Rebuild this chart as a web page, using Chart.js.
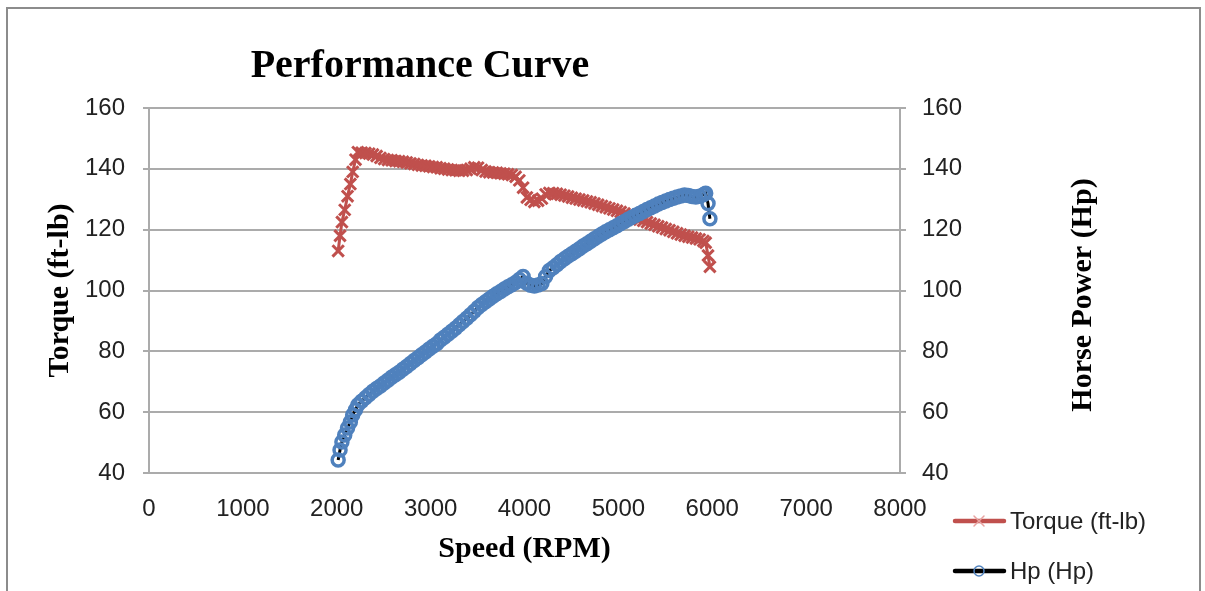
<!DOCTYPE html>
<html>
<head>
<meta charset="utf-8">
<script src="https://cdn.jsdelivr.net/npm/chart.js@4/dist/chart.umd.min.js"></script>
<style>
  html, body { margin: 0; padding: 0; background: #fff; overflow: hidden; }
  #wrap { position: relative; width: 1205px; height: 591px; }
  #frame { position: absolute; left: 6px; top: 7px; width: 1195px; height: 600px; border: 2px solid #8c8c8c; box-sizing: border-box; }
  #perf { position: absolute; left: 0; top: 0; }
</style>
</head>
<body>
<div id="wrap">
  <div id="frame"></div>
  <canvas id="perf" width="1205" height="591"></canvas>
</div>
<script>
// dyno run, speed sweep
const rpm = [
  2015, 2035, 2055, 2085, 2115, 2145, 2170, 2200, 2225,
  2265, 2305, 2345, 2385, 2425, 2465, 2505, 2545, 2585, 2625,
  2665, 2705, 2745, 2785, 2825, 2865, 2905, 2945, 2985, 3025,
  3065, 3105, 3145, 3185, 3225, 3265, 3305, 3345, 3385, 3425,
  3465, 3505, 3545, 3585, 3625, 3665, 3705, 3745, 3785, 3825,
  3865, 3905, 3945, 3985, 4025, 4065, 4105, 4145, 4185, 4225,
  4265, 4305, 4345, 4385, 4425, 4465, 4505, 4545, 4585, 4625,
  4665, 4705, 4745, 4785, 4825, 4865, 4905, 4945, 4985, 5025,
  5065, 5105, 5145, 5185, 5225, 5265, 5305, 5345, 5385, 5425,
  5465, 5505, 5545, 5585, 5625, 5665, 5705, 5745, 5785, 5825,
  5865, 5905, 5930, 5955, 5975
]
const torque = [
  113, 118, 122.5, 126.5, 131, 135, 139, 143, 145.5,
  145.3, 145.2, 145.0, 144.7, 144.2, 143.6, 143.2, 142.9, 142.8, 142.6,
  142.5, 142.3, 142.1, 141.8, 141.6, 141.3, 141.1, 141.0, 140.8, 140.6,
  140.5, 140.2, 140.0, 139.8, 139.6, 139.5, 139.4, 139.4, 139.6, 140.0,
  140.5, 140.4, 139.6, 139.1, 138.9, 138.8, 138.7, 138.5, 138.4, 138.2,
  138.0, 137.4, 136.2, 133.8, 130.6, 129.8, 129.1, 129.5, 130.2, 131.6,
  132.1, 132.0, 131.8, 131.5, 131.2, 130.9, 130.5, 130.2, 129.9, 129.6,
  129.3, 129.0, 128.6, 128.2, 127.8, 127.4, 127.0, 126.6, 126.2, 125.8,
  125.3, 124.8, 124.3, 123.8, 123.3, 122.9, 122.5, 122.0, 121.6, 121.1,
  120.7, 120.2, 119.8, 119.3, 118.8, 118.4, 118.0, 117.7, 117.4, 117.1,
  116.8, 116.3, 115.7, 111.5, 107.8
]
const hp = [
  44.3, 47.6, 50.2, 52.5, 54.8, 56.8, 59.1, 60.8, 62.4,
  63.6, 64.7, 65.8, 66.9, 67.8, 68.6, 69.6, 70.5, 71.5, 72.3,
  73.1, 74.1, 75.0, 76.0, 77.0, 77.9, 78.9, 79.8, 80.8, 81.7,
  82.5, 83.7, 84.6, 85.6, 86.6, 87.6, 88.7, 89.8, 90.9, 92.0,
  93.2, 94.4, 95.4, 96.3, 97.2, 98.1, 98.9, 99.7, 100.5, 101.2,
  101.9, 102.6, 103.6, 104.6, 102.4, 101.7, 101.5, 101.8, 102.3, 104.6,
  106.6, 107.5, 108.5, 109.5, 110.4, 111.3, 112.1, 112.9, 113.7, 114.6,
  115.4, 116.2, 117.0, 117.8, 118.6, 119.3, 120.0, 120.6, 121.3, 122.0,
  122.7, 123.4, 124.1, 124.7, 125.3, 126.0, 126.6, 127.2, 127.8, 128.4,
  128.9, 129.4, 129.9, 130.3, 130.7, 131.1, 131.4, 131.2, 130.9, 130.7,
  131.0, 131.5, 132.0, 128.6, 123.6
]
const speedTicks = [0, 1000, 2000, 3000, 4000, 5000, 6000, 7000, 8000]
const valueTicks = [40, 60, 80, 100, 120, 140, 160]

const RED = '#C0504D'
const BLUE = '#4F81BD'
const GRID = '#ABABAB'
const tickFont = {family: "'Liberation Sans', Arial, sans-serif", size: 24}
const titleFont = {family: "'Liberation Serif', 'Times New Roman', serif", size: 30, weight: 'bold'}

/** extra text: chart title, right axis title and the legend box */
const decorations = {
  id: 'decorations',
  afterDraw(chart){
    const ctx = chart.ctx
    ctx.save()
    ctx.fillStyle = '#000'
    ctx.font = "bold 40px 'Liberation Serif', 'Times New Roman', serif"
    ctx.textAlign = 'center'
    ctx.textBaseline = 'alphabetic'
    ctx.fillText('Performance Curve', 420, 77)

    // right axis title reads bottom to top like the left one
    ctx.save()
    ctx.translate(1083, 295)
    ctx.rotate(-Math.PI/2)
    ctx.font = "bold 30px 'Liberation Serif', 'Times New Roman', serif"
    ctx.textBaseline = 'middle'
    ctx.fillText('Horse Power (Hp)', 0, 0)
    ctx.restore()

    // legend
    const items = [
      {label: 'Torque (ft-lb)', line: RED, y: 521, marker: 'cross'},
      {label: 'Hp (Hp)', line: '#000', y: 571, marker: 'circle'}
    ]
    items.forEach(it => {
      ctx.strokeStyle = it.line
      ctx.lineWidth = 4.5
      ctx.lineCap = 'round'
      ctx.beginPath()
      ctx.moveTo(955, it.y)
      ctx.lineTo(1004, it.y)
      ctx.stroke()
      ctx.lineWidth = 1.5
      if(it.marker === 'cross'){
        ctx.strokeStyle = '#E8A3A1'
        ctx.beginPath()
        ctx.moveTo(974, it.y - 5); ctx.lineTo(984, it.y + 5)
        ctx.moveTo(984, it.y - 5); ctx.lineTo(974, it.y + 5)
        ctx.stroke()
      }else{
        ctx.strokeStyle = BLUE
        ctx.beginPath()
        ctx.arc(979, it.y, 5, 0, Math.PI*2)
        ctx.stroke()
      }
      ctx.fillStyle = '#222'
      ctx.font = "24px 'Liberation Sans', Arial, sans-serif"
      ctx.textAlign = 'left'
      ctx.textBaseline = 'middle'
      ctx.fillText(it.label, 1010, it.y + 1)
    })
    ctx.restore()
  }
}

const torquePoints = rpm.map((r, i) => ({x: r, y: torque[i]}))
const hpPoints = rpm.map((r, i) => ({x: r, y: hp[i]}))

const ctx = document.getElementById('perf')
let perfChart = new Chart(ctx, {
  type: 'line',
  data: {
    datasets: [{
      label: 'Torque (ft-lb)',
      data: torquePoints,
      yAxisID: 'y',
      order: 2,
      borderColor: RED,
      borderWidth: 3,
      pointStyle: 'crossRot',
      pointRadius: 8,
      pointBorderWidth: 3,
      pointBorderColor: RED,
      pointBackgroundColor: RED,
      tension: 0
    }, {
      label: 'Hp (Hp)',
      data: hpPoints,
      yAxisID: 'y1',
      order: 1,
      borderColor: '#000',
      borderWidth: 3,
      pointStyle: 'circle',
      pointRadius: 6,
      pointBorderWidth: 3.5,
      pointBorderColor: BLUE,
      pointBackgroundColor: 'rgba(0,0,0,0)',
      tension: 0
    }]
  },
  options: {
    responsive: false,
    animation: false,
    layout: {padding: {left: 10, right: 0, top: 108, bottom: 0}},
    plugins: {
      legend: {display: false},
      tooltip: {enabled: false}
    },
    scales: {
      x: {
        type: 'linear',
        min: 0,
        max: 8000,
        afterBuildTicks: s => { s.ticks = speedTicks.map(v => ({value: v})) },
        afterFit: s => { s.height = 118 },
        grid: {display: false},
        border: {display: true, color: GRID, width: 2},
        ticks: {font: tickFont, color: '#222', padding: 14, maxRotation: 0, callback: v => String(v)},
        title: {display: true, text: 'Speed (RPM)', font: titleFont, color: '#000', padding: {top: 0, bottom: 24}}
      },
      y: {
        position: 'left',
        min: 40,
        max: 160,
        afterBuildTicks: s => { s.ticks = valueTicks.map(v => ({value: v})) },
        afterFit: s => { s.width = 139 },
        grid: {color: GRID, lineWidth: 2, tickLength: 6},
        border: {display: true, color: GRID, width: 2},
        ticks: {font: tickFont, color: '#222', padding: 18, callback: v => String(v)},
        title: {display: true, text: 'Torque (ft-lb)', font: titleFont, color: '#000', padding: {top: 32, bottom: 0}}
      },
      y1: {
        position: 'right',
        min: 40,
        max: 160,
        afterBuildTicks: s => { s.ticks = valueTicks.map(v => ({value: v})) },
        afterFit: s => { s.width = 305 },
        grid: {drawOnChartArea: false, color: GRID, lineWidth: 2, tickLength: 6},
        border: {display: true, color: GRID, width: 2},
        ticks: {font: tickFont, color: '#222', padding: 16, callback: v => String(v)}
      }
    }
  },
  plugins: [decorations]
})
</script>
</body>
</html>
